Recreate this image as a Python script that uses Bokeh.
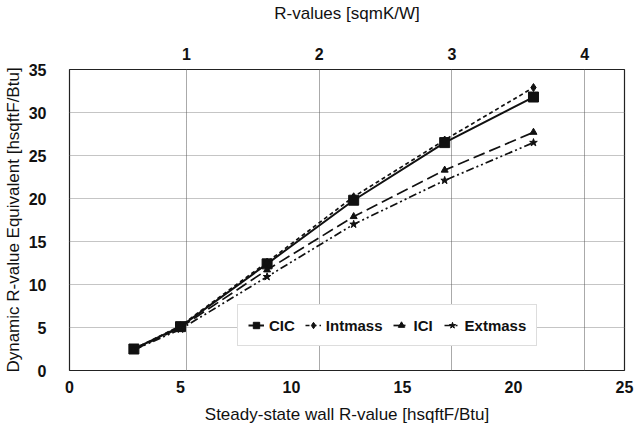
from bokeh.plotting import figure
from bokeh.models import (LinearAxis, Range1d, FixedTicker, Grid, Legend)
from bokeh.embed import file_html
from bokeh.resources import INLINE

# Data
wall_r = [2.9, 5.0, 8.9, 12.8, 16.9, 20.9]
cic = [2.5, 5.1, 12.4, 19.8, 26.5, 31.8]
intmass = [2.5, 5.2, 12.6, 20.2, 26.8, 32.9]
ici = [2.4, 5.0, 11.7, 17.9, 23.3, 27.7]
extmass = [2.4, 4.8, 10.9, 17.0, 22.1, 26.5]

bottom_ticks = [0, 5, 10, 15, 20, 25]
left_ticks = [0, 5, 10, 15, 20, 25, 30, 35]
top_ticks = [1, 2, 3, 4]

FONT = "Liberation Sans"

p = figure(width=635, height=429, output_backend="svg", toolbar_location=None,
           x_range=Range1d(0, 25), y_range=Range1d(0, 35),
           x_axis_location=None, y_axis_location=None,
           min_border_left=69, min_border_right=11,
           min_border_top=69, min_border_bottom=59)
p.background_fill_color = "white"
p.border_fill_color = "white"
p.outline_line_color = "#222222"
p.outline_line_width = 1.2
p.xgrid.visible = False
p.ygrid.visible = False

p.extra_x_ranges = {"rsi": Range1d(0.118, 4.30)}

def style_axis(ax):
    ax.major_label_text_font = FONT
    ax.major_label_text_font_style = "bold"
    ax.major_label_text_font_size = "16px"
    ax.major_label_text_color = "#111111"
    ax.axis_label_text_font = FONT
    ax.axis_label_text_font_style = "normal"
    ax.axis_label_text_font_size = "17px"
    ax.axis_label_text_color = "#111111"
    ax.axis_line_color = None
    ax.major_tick_line_color = None
    ax.minor_tick_line_color = None

xb = LinearAxis(ticker=FixedTicker(ticks=bottom_ticks),
                axis_label="Steady-state wall R-value [hsqftF/Btu]")
style_axis(xb)
xb.major_label_standoff = 4
xb.axis_label_standoff = 9
p.add_layout(xb, "below")

yl = LinearAxis(ticker=FixedTicker(ticks=left_ticks),
                axis_label="Dynamic R-value Equivalent [hsqftF/Btu]")
style_axis(yl)
yl.major_label_standoff = 17
yl.axis_label_standoff = 3
p.add_layout(yl, "left")

xt = LinearAxis(x_range_name="rsi", ticker=FixedTicker(ticks=top_ticks),
                axis_label="R-values [sqmK/W]")
style_axis(xt)
xt.major_label_standoff = 4
xt.axis_label_standoff = 22
p.add_layout(xt, "above")

hgrid = Grid(dimension=1, ticker=FixedTicker(ticks=left_ticks),
             grid_line_color="#8a8a8a", grid_line_dash="1 1", grid_line_width=1)
p.add_layout(hgrid)
vgrid = Grid(dimension=0, ticker=FixedTicker(ticks=top_ticks), x_range_name="rsi",
             grid_line_color="#555555", grid_line_dash="1 1", grid_line_width=1)
p.add_layout(vgrid)

C = "#111111"
r1 = p.line(wall_r, cic, line_color=C, line_width=2)
m1 = p.scatter(wall_r, cic, marker="square", size=10, fill_color=C, line_color=C)
r2 = p.line(wall_r, intmass, line_color=C, line_width=1.7, line_dash="4 3")
m2 = p.scatter(wall_r, intmass, marker="diamond", size=8, fill_color=C, line_color=C)
r3 = p.line(wall_r, ici, line_color=C, line_width=1.7, line_dash="12 5")
m3 = p.scatter(wall_r, ici, marker="triangle", size=7, fill_color=C, line_color=C)
r4 = p.line(wall_r, extmass, line_color=C, line_width=1.7, line_dash="8 3 2 3 2 3")
m4 = p.scatter(wall_r, extmass, marker="star", size=8, fill_color=C, line_color=C)

legend = Legend(items=[("CIC", [r1, m1]), ("Intmass", [r2, m2]),
                       ("ICI", [r3, m3]), ("Extmass", [r4, m4])],
                location=(168, 24), orientation="horizontal")
legend.label_text_font = FONT
legend.label_text_font_style = "bold"
legend.label_text_font_size = "15px"
legend.label_text_color = "#111111"
legend.border_line_color = "#bbbbbb"
legend.background_fill_color = "white"
legend.background_fill_alpha = 1.0
legend.glyph_width = 16
legend.spacing = 10
legend.padding = 10
legend.margin = 0
legend.label_standoff = 5
p.add_layout(legend, "center")

open("out.html", "w").write(file_html(p, INLINE))
